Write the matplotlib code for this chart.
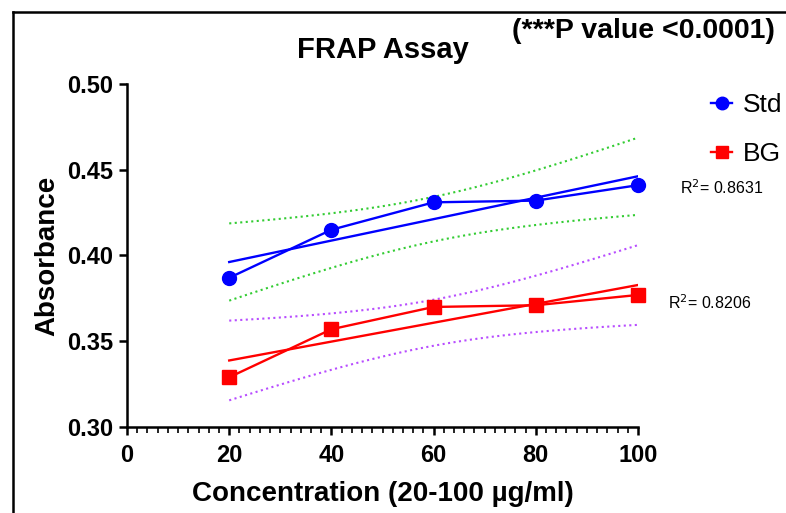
import matplotlib.pyplot as plt
import numpy as np
from matplotlib.lines import Line2D
from matplotlib.ticker import MultipleLocator

plt.rcParams['font.family'] = ['Liberation Sans', 'DejaVu Sans']

conc = np.array([20, 40, 60, 80, 100])
std_abs = np.array([0.387, 0.415, 0.431, 0.432, 0.441])
bg_abs = np.array([0.329, 0.357, 0.370, 0.371, 0.377])
r2_labels = ['R$^2$= 0.8631', 'R$^2$= 0.8206']
t_crit = 3.182  # t(0.975, df=3)


def fit_band(x, y, xs):
    # linear fit with 95% confidence band
    slope, icpt = np.polyfit(x, y, 1)
    yhat = slope * xs + icpt
    resid = y - (slope * x + icpt)
    s = np.sqrt(np.sum(resid ** 2) / (len(x) - 2))
    sxx = np.sum((x - x.mean()) ** 2)
    se = s * np.sqrt(1 / len(x) + (xs - x.mean()) ** 2 / sxx)
    return yhat, yhat - t_crit * se, yhat + t_crit * se


fig = plt.figure(figsize=(7.86, 5.13), dpi=100)
ax = fig.add_axes([0.1616, 0.1676, 0.6501, 0.6687])

xs = np.linspace(20, 100, 100)
series = [(std_abs, 'blue', 'o', '#33cc33', 'Std'),
          (bg_abs, 'red', 's', '#b84dff', 'BG')]
for y, col, mk, bandcol, name in series:
    yhat, lo, hi = fit_band(conc, y, xs)
    ax.plot(xs, lo, ':', color=bandcol, lw=1.5)
    ax.plot(xs, hi, ':', color=bandcol, lw=1.5)
    ax.plot(xs, yhat, '-', color=col, lw=1.7)
    ax.plot(conc, y, '-', color=col, lw=1.7, marker=mk, markersize=10,
            clip_on=False, zorder=5)

ax.text(108.2, 0.4398, r2_labels[0], fontsize=11.5, va='center')
ax.text(105.9, 0.3725, r2_labels[1], fontsize=11.5, va='center')

ax.set_xlim(0, 100)
ax.set_ylim(0.30, 0.50)
ax.xaxis.set_major_locator(MultipleLocator(20))
ax.xaxis.set_minor_locator(MultipleLocator(2))
ax.yaxis.set_major_locator(MultipleLocator(0.05))
ax.yaxis.set_major_formatter(plt.FormatStrFormatter('%.2f'))
for s in ['top', 'right']:
    ax.spines[s].set_visible(False)
for s in ['left', 'bottom']:
    ax.spines[s].set_linewidth(1.8)
ax.tick_params(which='major', direction='out', length=6, width=1.8, labelsize=17)
ax.tick_params(axis='x', which='major', pad=6)
ax.tick_params(axis='y', which='major', pad=4)
ax.tick_params(which='minor', direction='out', length=4, width=1.2)
for lab in ax.get_xticklabels() + ax.get_yticklabels():
    lab.set_fontweight('bold')

ax.set_xlabel('Concentration (20-100 µg/ml)', fontsize=20, fontweight='bold', labelpad=10)
ax.set_ylabel('Absorbance', fontsize=20, fontweight='bold', labelpad=5)
ax.set_title('FRAP Assay', fontsize=21, fontweight='bold', pad=19)
fig.text(0.986, 0.94, '(***P value <0.0001)', ha='right', va='center', fontsize=20.5,
         fontweight='bold')

handles = [Line2D([], [], color='blue', marker='o', markersize=9, lw=1.7),
           Line2D([], [], color='red', marker='s', markersize=9, lw=1.7)]
fig.legend(handles, ['Std', 'BG'], loc='upper left', bbox_to_anchor=(0.9046, 0.818),
           frameon=False, fontsize=19, handlelength=0.8, handletextpad=0.4,
           labelspacing=0.95, borderpad=0, borderaxespad=0)

# frame around figure panel
fig.add_artist(Line2D([13 / 786, 13 / 786], [0, 1 - 12 / 513], color='black', lw=1.8,
                      transform=fig.transFigure))
fig.add_artist(Line2D([13 / 786, 1], [1 - 12 / 513, 1 - 12 / 513], color='black', lw=1.8,
                      transform=fig.transFigure))

fig.savefig('out.png', dpi=100)
